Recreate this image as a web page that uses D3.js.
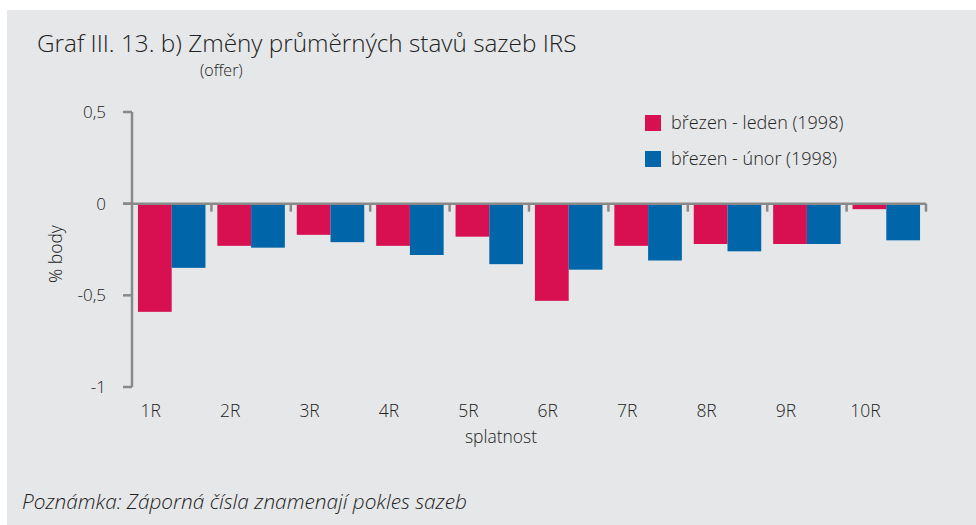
<!DOCTYPE html>
<html>
<head>
<meta charset="utf-8">
<script src="https://cdn.jsdelivr.net/npm/d3@7"></script>
<style>
  body { margin: 0; background: #fff; }
  text { font-family: "Open Sans", Lato, sans-serif; font-weight: 300; fill: #222; }
</style>
</head>
<body>
<div id="chart"></div>
<script>
const categories = ["1R", "2R", "3R", "4R", "5R", "6R", "7R", "8R", "9R", "10R"];
const seriesNames = ["březen - leden (1998)", "březen - únor (1998)"];
const brezenLeden = [-0.59, -0.23, -0.17, -0.23, -0.18, -0.53, -0.23, -0.22, -0.22, -0.03];
const brezenUnor = [-0.35, -0.24, -0.21, -0.28, -0.33, -0.36, -0.31, -0.26, -0.22, -0.20];
const yTicks = [0.5, 0, -0.5, -1];
const colors = ["#d81052", "#0066a9"];

const width = 976, height = 525;
const svg = d3.select("#chart").append("svg")
  .attr("width", width)
  .attr("height", height);

// grey panel
svg.append("rect")
  .attr("x", 7).attr("y", 10)
  .attr("width", width - 7).attr("height", height - 10)
  .attr("fill", "#e6e7e9");

const x0 = d3.scaleBand()
  .domain(categories)
  .range([132, 926])
  .paddingInner(0.15)
  .paddingOuter(0.075);

const x1 = d3.scaleBand()
  .domain([0, 1])
  .range([0, x0.bandwidth()]);

const y = d3.scaleLinear()
  .domain([-1, 0.5])
  .range([387, 112]);

// czech decimal comma, plain hyphen for minus
const fmt = d => String(d).replace(".", ",");

// bars
const data = categories.map((c, i) => ({cat: c, vals: [brezenLeden[i], brezenUnor[i]]}));
const groups = svg.append("g").selectAll("g")
  .data(data).enter().append("g")
  .attr("transform", d => `translate(${x0(d.cat)},0)`);

groups.selectAll("rect")
  .data(d => d.vals.map((v, k) => ({k: k, v: v})))
  .enter().append("rect")
  .attr("x", d => x1(d.k))
  .attr("y", d => y(Math.max(0, d.v)))
  .attr("width", x1.bandwidth())
  .attr("height", d => Math.abs(y(d.v) - y(0)))
  .attr("fill", d => colors[d.k]);

// y axis
const axisColor = "#898989";
svg.append("line")
  .attr("x1", 132).attr("x2", 132)
  .attr("y1", y(0.5)).attr("y2", y(-1))
  .attr("stroke", axisColor).attr("stroke-width", 2.5);

yTicks.forEach(t => {
  svg.append("line")
    .attr("x1", 123).attr("x2", 132)
    .attr("y1", y(t)).attr("y2", y(t))
    .attr("stroke", axisColor).attr("stroke-width", 2.5);
  svg.append("text")
    .attr("x", 106)
    .attr("y", y(t))
    .attr("dy", "0.35em")
    .attr("text-anchor", "end")
    .style("font-size", "17px")
    .text(fmt(t));
});

// zero line with ticks at category boundaries
const step = x0.step();
const boundaries = categories.map(c => x0(c) - (step - x0.bandwidth()) / 2).concat([x0.range()[1]]);
svg.append("line")
  .attr("x1", 123).attr("x2", x0.range()[1])
  .attr("y1", y(0)).attr("y2", y(0))
  .attr("stroke", axisColor).attr("stroke-width", 2.5);
boundaries.slice(1).forEach(b => {
  svg.append("line")
    .attr("x1", b).attr("x2", b)
    .attr("y1", y(0)).attr("y2", y(0) + 8)
    .attr("stroke", axisColor).attr("stroke-width", 2.5);
});

// category labels
svg.selectAll(".cat")
  .data(categories).enter().append("text")
  .attr("class", "cat")
  .attr("x", d => x0(d) + x0.bandwidth() * 0.19)
  .attr("y", 417)
  .attr("text-anchor", "middle")
  .style("font-size", "17.5px")
  .text(d => d);

// axis titles
svg.append("text")
  .attr("x", 501).attr("y", 443)
  .attr("text-anchor", "middle")
  .style("font-size", "17.5px")
  .text("splatnost");

svg.append("text")
  .attr("transform", "translate(62,254) rotate(-90)")
  .attr("text-anchor", "middle")
  .style("font-size", "17.5px")
  .text("% body");

// legend
seriesNames.forEach((s, i) => {
  svg.append("rect")
    .attr("x", 645).attr("y", 115 + i * 36)
    .attr("width", 16).attr("height", 16)
    .attr("fill", colors[i]);
  svg.append("text")
    .attr("x", 671).attr("y", 129 + i * 36)
    .style("font-size", "18px")
    .text(s);
});

// title
svg.append("text")
  .attr("x", 37).attr("y", 52)
  .style("font-size", "24.3px")
  .text("Graf III. 13. b) Změny průměrných stavů sazeb IRS");
svg.append("text")
  .attr("x", 200).attr("y", 76)
  .style("font-size", "16px")
  .text("(offer)");

// note
svg.append("text")
  .attr("x", 22).attr("y", 509)
  .style("font-size", "20.8px")
  .style("font-style", "italic")
  .text("Poznámka: Záporná čísla znamenají pokles sazeb");
</script>
</body>
</html>
